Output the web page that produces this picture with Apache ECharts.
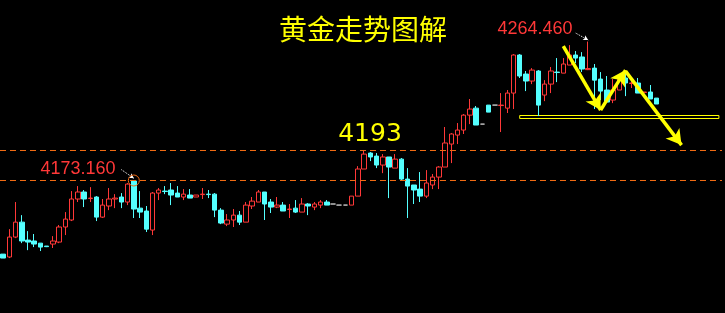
<!DOCTYPE html>
<html><head><meta charset="utf-8">
<script src="https://cdn.jsdelivr.net/npm/echarts@6/dist/echarts.min.js"></script>
<style>html,body{margin:0;padding:0;background:#000;}#c{width:725px;height:313px;}</style>
</head><body><div id="c"></div>
<script>
// [open, close, low, high]
const candles = [
[4124.8,4122.2,4122.2,4124.8],[4122.9,4136.0,4122.2,4141.2],[4136.0,4145.8,4135.3,4159.0],[4145.8,4133.4,4132.0,4150.4],
[4134.0,4132.7,4127.4,4139.9],[4133.4,4131.4,4129.4,4138.0],[4132.0,4129.4,4126.8,4132.0],[4130.1,4129.7,4129.4,4130.1],
[4131.4,4133.4,4128.8,4136.6],[4132.7,4142.6,4132.0,4143.9],[4142.6,4147.8,4137.3,4152.4],[4147.2,4161.0,4146.5,4166.2],
[4161.0,4165.6,4159.0,4169.5],[4165.6,4161.0,4155.7,4166.9],[4161.3,4161.6,4159.0,4168.8],[4162.3,4149.1,4146.5,4162.9],
[4149.1,4157.0,4148.5,4161.0],[4156.4,4161.0,4153.7,4168.2],[4161.0,4161.6,4155.0,4164.2],[4162.3,4159.0,4155.0,4164.9],
[4159.0,4170.8,4157.0,4171.5],[4172.8,4154.4,4148.5,4173.16],[4155.0,4152.4,4148.5,4166.2],[4153.1,4141.2,4139.3,4156.4],
[4140.6,4164.9,4137.3,4165.6],[4164.9,4166.9,4160.3,4168.2],[4166.2,4165.9,4164.2,4169.5],[4166.9,4163.6,4157.0,4171.5],
[4164.9,4162.3,4162.3,4169.5],[4162.3,4164.2,4160.3,4167.5],[4163.6,4161.6,4161.6,4167.5],[4162.3,4163.6,4162.3,4163.6],
[4163.9,4164.2,4161.0,4168.2],[4164.2,4163.9,4161.6,4166.9],[4164.2,4153.7,4149.1,4164.9],[4153.7,4145.2,4144.5,4155.0],
[4144.5,4147.2,4143.2,4151.1],[4147.2,4150.4,4142.6,4154.4],[4150.4,4145.8,4143.9,4153.1],[4145.8,4157.0,4145.8,4159.0],
[4156.4,4159.6,4154.4,4162.3],[4159.0,4165.6,4159.0,4166.9],[4165.6,4157.7,4147.2,4165.6],[4159.0,4155.7,4151.8,4161.0],
[4155.7,4157.0,4155.0,4162.3],[4157.0,4153.1,4153.1,4159.0],[4154.1,4154.4,4148.5,4157.7],[4155.0,4152.4,4151.8,4160.3],
[4152.4,4157.7,4152.4,4161.6],[4157.7,4156.4,4150.4,4158.3],[4155.7,4157.7,4153.7,4159.0],[4157.0,4159.0,4155.0,4160.3],
[4159.0,4157.0,4157.0,4160.3],[4157.7,4157.7,4157.7,4157.7],[4157.0,4157.0,4157.0,4157.0],[4157.0,4157.0,4157.0,4157.0],
[4157.0,4162.9,4157.0,4162.9],[4162.9,4180.7,4162.9,4182.6],[4180.7,4190.5,4180.7,4193.2],[4191.2,4188.6,4185.9,4191.8],
[4189.2,4183.3,4181.3,4191.2],[4183.3,4188.6,4178.0,4190.5],[4188.6,4182.0,4161.6,4188.6],[4181.3,4187.2,4181.3,4190.5],
[4187.2,4174.1,4173.4,4187.9],[4174.1,4169.5,4148.5,4181.3],[4170.2,4166.9,4157.7,4170.2],[4167.5,4162.9,4159.0,4178.7],
[4162.9,4171.5,4161.6,4180.0],[4170.2,4175.4,4167.5,4177.4],[4175.4,4182.0,4167.5,4182.6],[4182.0,4197.8,4182.0,4208.3],
[4197.1,4203.7,4184.6,4204.3],[4203.0,4206.3,4197.1,4210.9],[4206.3,4216.1,4203.7,4216.8],[4216.1,4220.1,4210.2,4226.7],
[4220.7,4209.6,4209.6,4222.1],[4210.2,4210.2,4210.2,4210.2],[4222.7,4218.1,4218.1,4222.7],[4222.7,4222.7,4222.7,4222.7],
[4222.4,4222.7,4205.0,4230.6],[4220.7,4230.6,4217.5,4232.6],[4230.6,4255.6,4220.1,4256.2],[4255.6,4241.8,4240.5,4256.2],
[4243.1,4238.5,4231.9,4245.1],[4238.5,4245.7,4236.5,4247.0],[4245.1,4222.7,4215.5,4245.7],[4229.3,4236.5,4225.3,4239.1],
[4236.5,4245.1,4230.6,4247.7],[4244.4,4244.1,4237.8,4253.6],[4243.7,4249.7,4243.7,4253.6],[4249.0,4255.6,4249.0,4262.1],
[4255.6,4253.6,4250.3,4258.2],[4254.3,4246.4,4244.4,4257.5],[4246.0,4246.7,4245.7,4264.46],[4247.0,4239.1,4220.1,4249.7],
[4239.8,4231.9,4226.0,4244.4],[4232.6,4224.7,4224.7,4241.8],[4226.0,4232.6,4224.0,4239.8],[4232.6,4239.8,4232.6,4241.8],
[4240.5,4237.2,4228.6,4244.4],[4236.9,4237.2,4233.9,4241.1],[4237.2,4230.6,4230.6,4240.5],[4231.0,4231.3,4231.0,4231.3],
[4231.3,4226.7,4226.7,4235.9],[4227.3,4223.4,4223.4,4227.3]
];
const slotCount = 116;
const categories = Array.from({length: slotCount}, (_, i) => String(i + 1));
const refLevels = [4193, 4173.16];
const supportBox = [[83, 4215.86], [115, 4213.89]];
const arrows = [
  [[90, 4261.5], [96, 4219.4]],
  [[96, 4219.4], [100, 4245.7]],
  [[100, 4245.0], [109, 4196.4]]
];
const pointers = [
  [[19, 4180.3], [21, 4174.6]],
  [[92, 4270.0], [94, 4265.4]]
];
const titleText = '黄金走势图解';
const levelText = '4193';
const highText = '4264.460';
const lowText = '4173.160';

const chart = echarts.init(document.getElementById('c'));
const RED = '#ff3838', CYAN = '#54ffff', YEL = '#ffff00', ORG = '#f06a12';
chart.setOption({
  backgroundColor: '#000',
  animation: false,
  grid: {left: -2, right: 3, top: 0, bottom: 0},
  xAxis: {type: 'category', data: categories, show: false, boundaryGap: true},
  yAxis: {type: 'value', min: 4086.1, max: 4291.75, show: false, splitLine: {show: false}},
  graphic: [
    {type: 'text', style: {x: 363, y: 29, text: titleText, fill: YEL, font: '28px "Noto Sans CJK SC"', align: 'center', verticalAlign: 'middle'}},
    {type: 'text', style: {x: 370, y: 134, text: levelText, fill: YEL, font: '25px "DejaVu Sans"', align: 'center', verticalAlign: 'middle'}},
    {type: 'text', style: {x: 535, y: 29, text: highText, fill: RED, font: '18px "Liberation Sans"', align: 'center', verticalAlign: 'middle'}},
    {type: 'text', style: {x: 78, y: 169, text: lowText, fill: RED, font: '18px "Liberation Sans"', align: 'center', verticalAlign: 'middle'}}
  ],
  series: [{
    type: 'candlestick',
    data: candles,
    barWidth: 5,
    itemStyle: {color: '#000', color0: CYAN, borderColor: RED, borderColor0: CYAN, borderColorDoji: '#c0c0c0', borderWidth: 1},
    markLine: {
      silent: true, symbol: ['none', 'none'], animation: false,
      label: {show: false},
      lineStyle: {color: ORG, type: [6, 4], width: 1},
      data: refLevels.map(v => ({yAxis: v}))
        .concat(arrows.map(a => [
          {coord: a[0], symbol: 'none', lineStyle: {color: YEL, width: 3.5, type: 'solid'}},
          {coord: a[1], symbol: 'arrow', symbolSize: [13, 15]}
        ]))
        .concat(pointers.map(a => [
          {coord: a[0], symbol: 'none', lineStyle: {color: '#ffffff', width: 1, type: [1, 1]}},
          {coord: a[1], symbol: 'arrow', symbolSize: [4, 5]}
        ]))
    },
    markArea: {
      silent: true,
      itemStyle: {color: 'rgba(0,0,0,0)', borderColor: YEL, borderWidth: 1},
      data: [[{coord: supportBox[0]}, {coord: supportBox[1]}]]
    },
    markPoint: {
      silent: true, symbol: 'circle', symbolSize: 11, label: {show: false},
      itemStyle: {color: 'rgba(0,0,0,0)', borderColor: ORG, borderWidth: 1},
      data: [{coord: [21, 4173.16]}]
    }
  }]
});
</script>
</body></html>
